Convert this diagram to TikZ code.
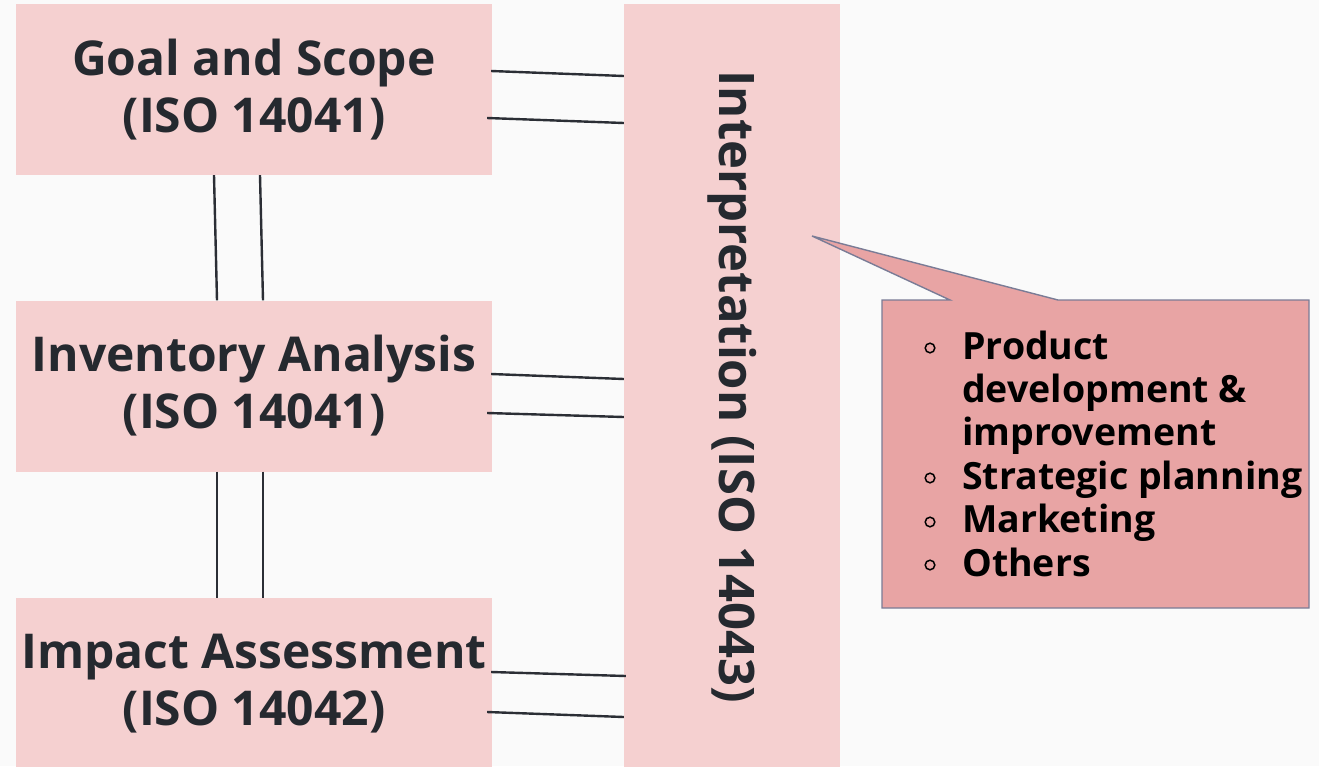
\documentclass[tikz,border=0pt]{standalone}
\usepackage{fontspec}
\setmainfont{Open Sans}
\usetikzlibrary{calc}
\definecolor{pagebg}{HTML}{FAFAFA}
\definecolor{stagefill}{HTML}{F5D0D0}
\definecolor{notefill}{HTML}{E8A4A4}
\definecolor{noteedge}{HTML}{7A7C96}
\definecolor{inkdark}{HTML}{25292F}
\definecolor{linkcol}{HTML}{2B2E35}
\tikzset{
  stage/.style={fill=stagefill, draw=none, minimum width=476pt, minimum height=171pt,
    inner sep=0pt, align=center, text=inkdark,
    font=\fontsize{48}{57}\selectfont\bfseries},
  interpbox/.style={fill=stagefill, draw=none, minimum width=216pt, minimum height=766pt,
    inner sep=0pt},
  link/.style={draw=linkcol, line width=2.4pt},
  itemtext/.style={anchor=base west, inner sep=0pt, text=black,
    font=\fontsize{37.5}{43.5}\selectfont\bfseries},
  bulletmark/.style={draw=black, line width=1.5pt, fill=none}
}
\begin{document}
\begin{tikzpicture}[x=1pt, y=-1pt]
  \useasboundingbox (0,0) rectangle (1319,766);
  \fill[pagebg] (0,0) rectangle (1319,766);

  % life-cycle stages
  \node[stage] (goal) at (254,89.5) {Goal and Scope\\(ISO 14041)};
  \node[stage] (inv)  at (254,386)  {Inventory Analysis\\(ISO 14041)};
  \node[stage] (imp)  at (254,683.5) {Impact Assessment\\(ISO 14042)};
  \node[interpbox] (interp) at (732,387) {};
  \node[rotate=-90, text=inkdark, font=\fontsize{49}{58}\selectfont\bfseries]
    (interptext) at (interp.center) {Interpretation (ISO 14043)};

  % double links between stages
  \draw[link] ([xshift=-40]goal.south) -- ([xshift=-37]inv.north);
  \draw[link] ([xshift=6]goal.south)   -- ([xshift=9]inv.north);
  \draw[link] ([xshift=-37]inv.south)  -- ([xshift=-37]imp.north);
  \draw[link] ([xshift=9]inv.south)    -- ([xshift=9]imp.north);

  % double links to interpretation
  \draw[link] ([xshift=-1,yshift=18.5]goal.east) -- ([yshift=13.5]goal.east -| interp.west);
  \draw[link] ([xshift=-5,yshift=-28.5]goal.east) -- ([yshift=-33.5]goal.east -| interp.west);
  \draw[link] ([xshift=-1,yshift=12]inv.east) -- ([yshift=7]inv.east -| interp.west);
  \draw[link] ([xshift=-5,yshift=-27]inv.east) -- ([yshift=-31]inv.east -| interp.west);
  \draw[link] ([xshift=-1,yshift=11.5]imp.east) -- ([xshift=2,yshift=7.5]imp.east -| interp.west);
  \draw[link] ([xshift=-5,yshift=-28.5]imp.east) -- ([yshift=-33.5]imp.east -| interp.west);

  % callout with applications
  \coordinate (tip) at (812,236);
  \draw[fill=notefill, draw=noteedge, line width=1.4pt, line join=miter]
    (882,300) -- (950,300) -- (tip) -- (1058,300) -- (1309,300)
    -- (1309,608) -- (882,608) -- cycle;
  \node[itemtext] (app1a) at (962,359) {Product};
  \node[itemtext] (app1b) at (962,402.4) {development \&};
  \node[itemtext] (app1c) at (962,445.8) {improvement};
  \node[itemtext] (app2) at (962,489.2) {Strategic planning};
  \node[itemtext] (app3) at (962,532.6) {Marketing};
  \node[itemtext] (app4) at (962,576) {Others};
  \foreach \yy in {348,478,522,565}
    \draw[bulletmark] (930,\yy) circle (4.8pt);
\end{tikzpicture}
\end{document}
